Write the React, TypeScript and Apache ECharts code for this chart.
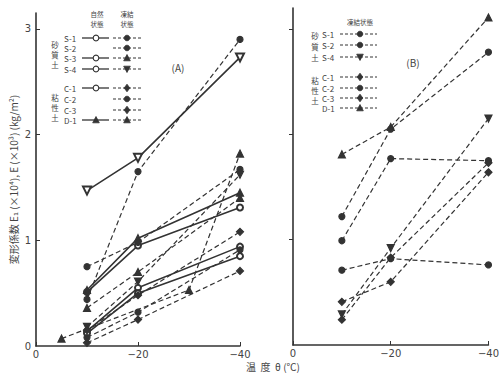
import React, { useEffect, useRef } from "react";
import * as echarts from "echarts";

// temperatures (°C) at which the specimens were measured
const THETA = [-10, -20, -40];
const THETA_A_FRZ_D1 = [-5, -30, -40];

// Panel (A) – natural state (solid lines, hollow marks)
const A_NAT_S1 = [0.51, 0.95, 1.31];
const A_NAT_S3 = [0.14, 0.55, 0.94];
const A_NAT_S4 = [1.47, 1.78, 2.73];
const A_NAT_C1 = [0.12, 0.5, 0.85];
const A_NAT_D1 = [0.53, 1.02, 1.45];
// Panel (A) – frozen state (dashed lines, filled marks)
const A_FRZ_S1 = [0.44, 1.65, 2.9];
const A_FRZ_S2 = [0.75, 0.98, 1.67];
const A_FRZ_S3 = [0.36, 0.7, 1.4];
const A_FRZ_S4 = [0.18, 0.61, 1.62];
const A_FRZ_C1 = [0.15, 0.48, 1.08];
const A_FRZ_C2 = [0.08, 0.32, 0.91];
const A_FRZ_C3 = [0.03, 0.25, 0.71];
const A_FRZ_D1 = [0.07, 0.53, 1.82];
// Panel (B) – frozen state
const B_S1 = [1.22, 2.05, 2.78];
const B_S2 = [0.99, 1.77, 1.75];
const B_S4 = [0.29, 0.92, 2.15];
const B_C1 = [0.41, 0.6, 1.64];
const B_C2 = [0.71, 0.82, 0.76];
const B_C3 = [0.24, 0.83, 1.73];
const B_D1 = [1.81, 2.07, 3.11];

const X_TICKS = [0, -20, -40];
const Y_TICKS = [0, 1, 2, 3];

const INK = "#333";
const TXT = "#444";
const JP = "'Noto Sans CJK JP', 'DejaVu Sans', sans-serif";

type Mk = "c" | "oc" | "t" | "ot" | "it" | "oit" | "d";

function symOf(m: Mk): { symbol: string; rotate: number; size: number } {
  switch (m) {
    case "c": return { symbol: "circle", rotate: 0, size: 6 };
    case "oc": return { symbol: "emptyCircle", rotate: 0, size: 6 };
    case "t": return { symbol: "triangle", rotate: 0, size: 7 };
    case "ot": return { symbol: "emptyTriangle", rotate: 0, size: 7 };
    case "it": return { symbol: "triangle", rotate: 180, size: 7 };
    case "oit": return { symbol: "emptyTriangle", rotate: 180, size: 8 };
    case "d": return { symbol: "diamond", rotate: 0, size: 7 };
  }
}

function series(name: string, thetas: number[], vals: number[], idx: number, dashed: boolean, m: Mk) {
  const s = symOf(m);
  return {
    type: "line",
    name,
    xAxisIndex: idx,
    yAxisIndex: idx,
    data: thetas.map((t, i) => [t, vals[i]]),
    symbol: s.symbol,
    symbolSize: s.size,
    symbolRotate: s.rotate,
    showAllSymbol: true,
    lineStyle: { color: INK, width: dashed ? 1.2 : 1.6, type: dashed ? [5, 3] : "solid" },
    itemStyle: { color: INK, borderColor: INK, borderWidth: 1.2 },
    emphasis: { disabled: true },
    silent: true,
  };
}

function markerGraphic(m: Mk, cx: number, cy: number): any {
  const hollow = m.startsWith("o");
  const style = hollow
    ? { fill: "#fff", stroke: INK, lineWidth: 1.1 }
    : { fill: INK, stroke: INK, lineWidth: 0.8 };
  const k = hollow ? m.slice(1) : m;
  if (k === "c") return { type: "circle", shape: { cx, cy, r: 2.8 }, style, z: 20 };
  if (k === "t")
    return { type: "polygon", shape: { points: [[cx, cy - 3.5], [cx + 3.3, cy + 2.8], [cx - 3.3, cy + 2.8]] }, style, z: 20 };
  if (k === "it")
    return { type: "polygon", shape: { points: [[cx - 3.3, cy - 2.8], [cx + 3.3, cy - 2.8], [cx, cy + 3.5]] }, style, z: 20 };
  return { type: "polygon", shape: { points: [[cx, cy - 3.8], [cx + 2.8, cy], [cx, cy + 3.8], [cx - 2.8, cy]] }, style, z: 20 };
}

function legendLine(x1: number, x2: number, y: number, dashed: boolean): any {
  return {
    type: "line",
    shape: { x1, y1: y, x2, y2: y },
    style: { stroke: INK, lineWidth: dashed ? 1 : 1.3, lineDash: dashed ? [3, 2] : null },
    z: 15,
  };
}

function txt(text: string, x: number, y: number, size: number, align = "center"): any {
  return {
    type: "text",
    x,
    y,
    style: { text, fontSize: size, fontFamily: JP, fill: TXT, align, verticalAlign: "middle" },
    z: 20,
  };
}

function vertical(chars: string, x: number, y0: number, step: number, size: number): any[] {
  return chars.split("").map((c, i) => txt(c, x, y0 + i * step, size));
}

const LEG_A: { label: string; y: number; nat: Mk | null; frz: Mk }[] = [
  { label: "S-1", y: 38, nat: "oc", frz: "c" },
  { label: "S-2", y: 48, nat: null, frz: "c" },
  { label: "S-3", y: 58, nat: "oc", frz: "t" },
  { label: "S-4", y: 69, nat: "oc", frz: "it" },
  { label: "C-1", y: 88, nat: "oc", frz: "d" },
  { label: "C-2", y: 99, nat: null, frz: "c" },
  { label: "C-3", y: 110, nat: null, frz: "d" },
  { label: "D-1", y: 120, nat: "t", frz: "t" },
];

const LEG_B: { label: string; y: number; frz: Mk }[] = [
  { label: "S-1", y: 34, frz: "c" },
  { label: "S-2", y: 45, frz: "c" },
  { label: "S-4", y: 57, frz: "it" },
  { label: "C-1", y: 77, frz: "d" },
  { label: "C-2", y: 88, frz: "c" },
  { label: "C-3", y: 98, frz: "d" },
  { label: "D-1", y: 108, frz: "t" },
];

function buildGraphics(): any[] {
  const g: any[] = [];
  // Panel A legend
  g.push(txt("自然", 97, 14, 6.5), txt("状態", 97, 24, 6.5));
  g.push(txt("凍結", 127, 14, 6.5), txt("状態", 127, 24, 6.5));
  g.push(...vertical("砂質土", 55, 44, 10, 7.5));
  g.push(...vertical("粘性土", 55, 97, 10, 7.5));
  LEG_A.forEach((r) => {
    g.push(txt(r.label, 64, r.y, 8, "left"));
    if (r.nat) {
      g.push(legendLine(82, 109, r.y, false));
      g.push(markerGraphic(r.nat, 96, r.y));
    }
    g.push(legendLine(113, 142, r.y, true));
    g.push(markerGraphic(r.frz, 127, r.y));
  });
  // Panel B legend
  g.push(txt("凍結状態", 360, 22, 6.5));
  g.push(...vertical("砂質土", 315, 35, 11, 7.5));
  g.push(...vertical("粘性土", 315, 80, 10, 7.5));
  LEG_B.forEach((r) => {
    g.push(txt(r.label, 322, r.y, 8, "left"));
    g.push(legendLine(340, 377, r.y, true));
    g.push(markerGraphic(r.frz, 360, r.y));
  });
  // panel marks & x title
  g.push(txt("(A)", 178, 67, 10));
  g.push(txt("(B)", 413, 62, 10));
  g.push(txt("温  度  θ (℃)", 273, 366, 10));
  return g;
}

function xAxis(gridIndex: number) {
  return {
    type: "value",
    gridIndex,
    inverse: true,
    min: X_TICKS[2],
    max: X_TICKS[0],
    interval: 20,
    axisLine: { show: true, onZero: false, lineStyle: { color: INK, width: 1.6 } },
    axisTick: { show: true, inside: true, length: 4, lineStyle: { color: INK } },
    axisLabel: {
      margin: 3,
      fontSize: 10,
      color: TXT,
      fontFamily: "'DejaVu Sans', sans-serif",
      formatter: (v: number) => (v === 0 ? "0" : "−" + Math.abs(v)),
    },
    splitLine: { show: false },
  };
}

function yAxis(gridIndex: number, max: number, labels: boolean) {
  return {
    type: "value",
    gridIndex,
    min: Y_TICKS[0],
    max,
    interval: 1,
    name: labels ? "変形係数 E₁ (×10⁴), E (×10³) (kg/m²)" : "",
    nameLocation: "middle",
    nameRotate: 90,
    nameGap: 18,
    nameTextStyle: { fontSize: 10, color: TXT, fontFamily: JP },
    axisLine: { show: true, onZero: false, lineStyle: { color: INK, width: 1.6 } },
    axisTick: {
      show: true,
      inside: labels,
      length: 4,
      lineStyle: { color: INK },
      customValues: Y_TICKS.slice(1),
    },
    axisLabel: {
      show: labels,
      margin: 5,
      fontSize: 10,
      color: TXT,
      fontFamily: "'DejaVu Sans', sans-serif",
      customValues: Y_TICKS,
      formatter: (v: number) => (Number.isInteger(v) ? String(v) : ""),
    },
    splitLine: { show: false },
  };
}

export default function App() {
  const ref = useRef<HTMLDivElement>(null);
  useEffect(() => {
    if (!ref.current) return;
    const chart = echarts.init(ref.current, null, { renderer: "svg" });
    chart.setOption({
      animation: false,
      backgroundColor: "#fff",
      grid: [
        { left: 36, top: 13, width: 204, bottom: 34 },
        { left: 293, top: 8, width: 204, bottom: 35 },
      ],
      xAxis: [xAxis(0), xAxis(1)],
      yAxis: [yAxis(0, 3.15, true), yAxis(1, 3.2, false)],
      graphic: buildGraphics(),
      series: [
        series("S-1 自然", THETA, A_NAT_S1, 0, false, "oc"),
        series("S-3 自然", THETA, A_NAT_S3, 0, false, "oc"),
        series("S-4 自然", THETA, A_NAT_S4, 0, false, "oit"),
        series("C-1 自然", THETA, A_NAT_C1, 0, false, "oc"),
        series("D-1 自然", THETA, A_NAT_D1, 0, false, "t"),
        series("S-1 凍結", THETA, A_FRZ_S1, 0, true, "c"),
        series("S-2 凍結", THETA, A_FRZ_S2, 0, true, "c"),
        series("S-3 凍結", THETA, A_FRZ_S3, 0, true, "t"),
        series("S-4 凍結", THETA, A_FRZ_S4, 0, true, "it"),
        series("C-1 凍結", THETA, A_FRZ_C1, 0, true, "d"),
        series("C-2 凍結", THETA, A_FRZ_C2, 0, true, "c"),
        series("C-3 凍結", THETA, A_FRZ_C3, 0, true, "d"),
        series("D-1 凍結", THETA_A_FRZ_D1, A_FRZ_D1, 0, true, "t"),
        series("B S-1", THETA, B_S1, 1, true, "c"),
        series("B S-2", THETA, B_S2, 1, true, "c"),
        series("B S-4", THETA, B_S4, 1, true, "it"),
        series("B C-1", THETA, B_C1, 1, true, "d"),
        series("B C-2", THETA, B_C2, 1, true, "c"),
        series("B C-3", THETA, B_C3, 1, true, "d"),
        series("B D-1", THETA, B_D1, 1, true, "t"),
      ],
    });
    return () => chart.dispose();
  }, []);
  return (
    <div
      ref={ref}
      style={{ position: "fixed", left: 0, top: 0, width: 502, height: 380 }}
    />
  );
}
